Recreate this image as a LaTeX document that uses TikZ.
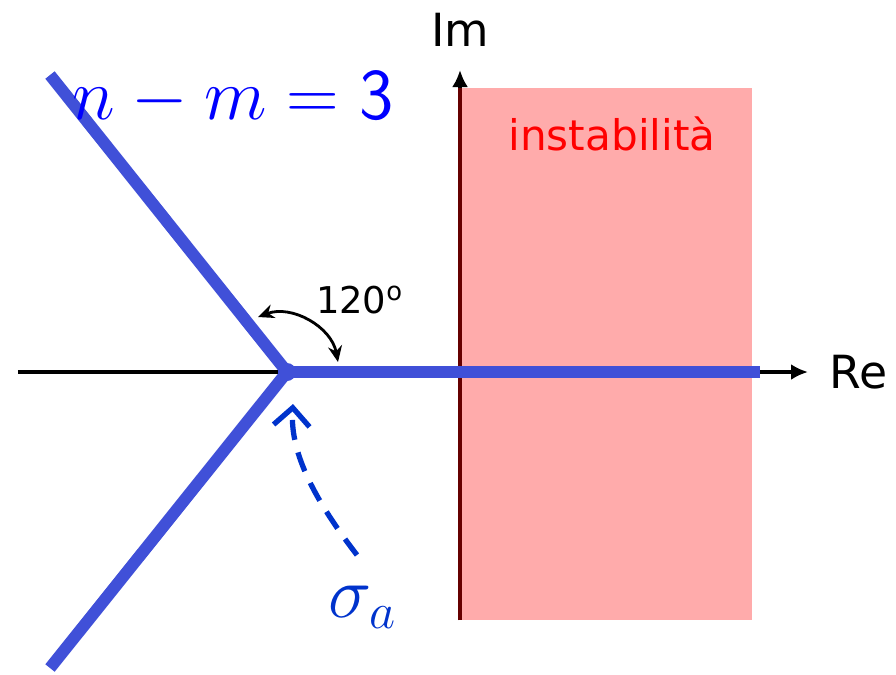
\documentclass[tikz,border=0pt]{standalone}
\usepackage{fontspec}
\setsansfont{DejaVu Sans}
\usetikzlibrary{arrows.meta}
\definecolor{asymblue}{RGB}{64,80,216}
\definecolor{sigblue}{RGB}{0,51,204}
\begin{document}
\begin{tikzpicture}[
  axis/.style={line width=1pt, -{Latex[length=1.7mm,width=1.6mm]}},
  asym/.style={line width=3.4pt, asymblue},
  lbl/.style={font=\sffamily\fontsize{13}{15}\selectfont, inner sep=0pt}]
  \useasboundingbox (0,0) rectangle (8.96,6.74);
  % axes
  \coordinate (reL) at (0.18,3.02);
  \coordinate (reR) at (8.08,3.02);
  \coordinate (imB) at (4.60,0.54);
  \coordinate (imT) at (4.60,6.04);
  \draw[axis] (reL) -- (reR) node[lbl, right=0.2cm] (re) {Re};
  \draw[axis] (imB) -- (imT) node[lbl, above=0.22cm] (im) {Im};
  % unstable half plane
  \fill[red, fill opacity=0.33] (4.60,0.54) rectangle (7.52,5.86);
  \draw[line width=1pt, black!60!red] (4.60,0.54) -- (4.60,5.86);
  \node[font=\sffamily\fontsize{12}{14}\selectfont, text=red] (inst) at (6.12,5.40) {instabilità};
  % asymptotes
  \coordinate (sa) at (2.87,3.02);
  \coordinate (up) at (0.50,5.99);
  \coordinate (dn) at (0.50,0.06);
  \coordinate (rt) at (7.60,3.02);
  \draw[asym] (up) -- (sa) -- (dn);
  \draw[asym] (sa) -- (rt);
  \fill[asymblue] (sa) circle (0.09);
  % angle between asymptotes
  \coordinate (angA) at (2.58,3.57);
  \coordinate (angB) at (3.38,3.12);
  \draw[line width=0.8pt, {Stealth[length=1.6mm,width=1.4mm]}-{Stealth[length=1.6mm,width=1.4mm]}]
    (angA) to[bend left=50] (angB);
  \node[font=\sffamily\fontsize{10.5}{12}\selectfont] (ang) at (3.60,3.74) {120\textsuperscript{o}};
  % centroid of asymptotes
  \node[text=sigblue, font=\fontsize{20}{22}\selectfont] (sig) at (3.63,0.67) {$\sigma_a$};
  \coordinate (sigS) at (3.57,1.19);
  \coordinate (sigE) at (2.93,2.70);
  \draw[sigblue, line width=1.5pt, dash pattern=on 0.2cm off 0.13cm,
        -{Straight Barb[length=1.8mm,width=3.6mm]}]
    (sigS) .. controls (3.10,1.80) and (2.90,2.25) .. (sigE);
  % number of asymptotes
  \node[text=blue, font=\fontsize{20.74}{23}\selectfont] (nm) at (2.33,5.76)
    {$n-m=\hbox{\fontfamily{lmss}\selectfont 3}$};
\end{tikzpicture}
\end{document}
